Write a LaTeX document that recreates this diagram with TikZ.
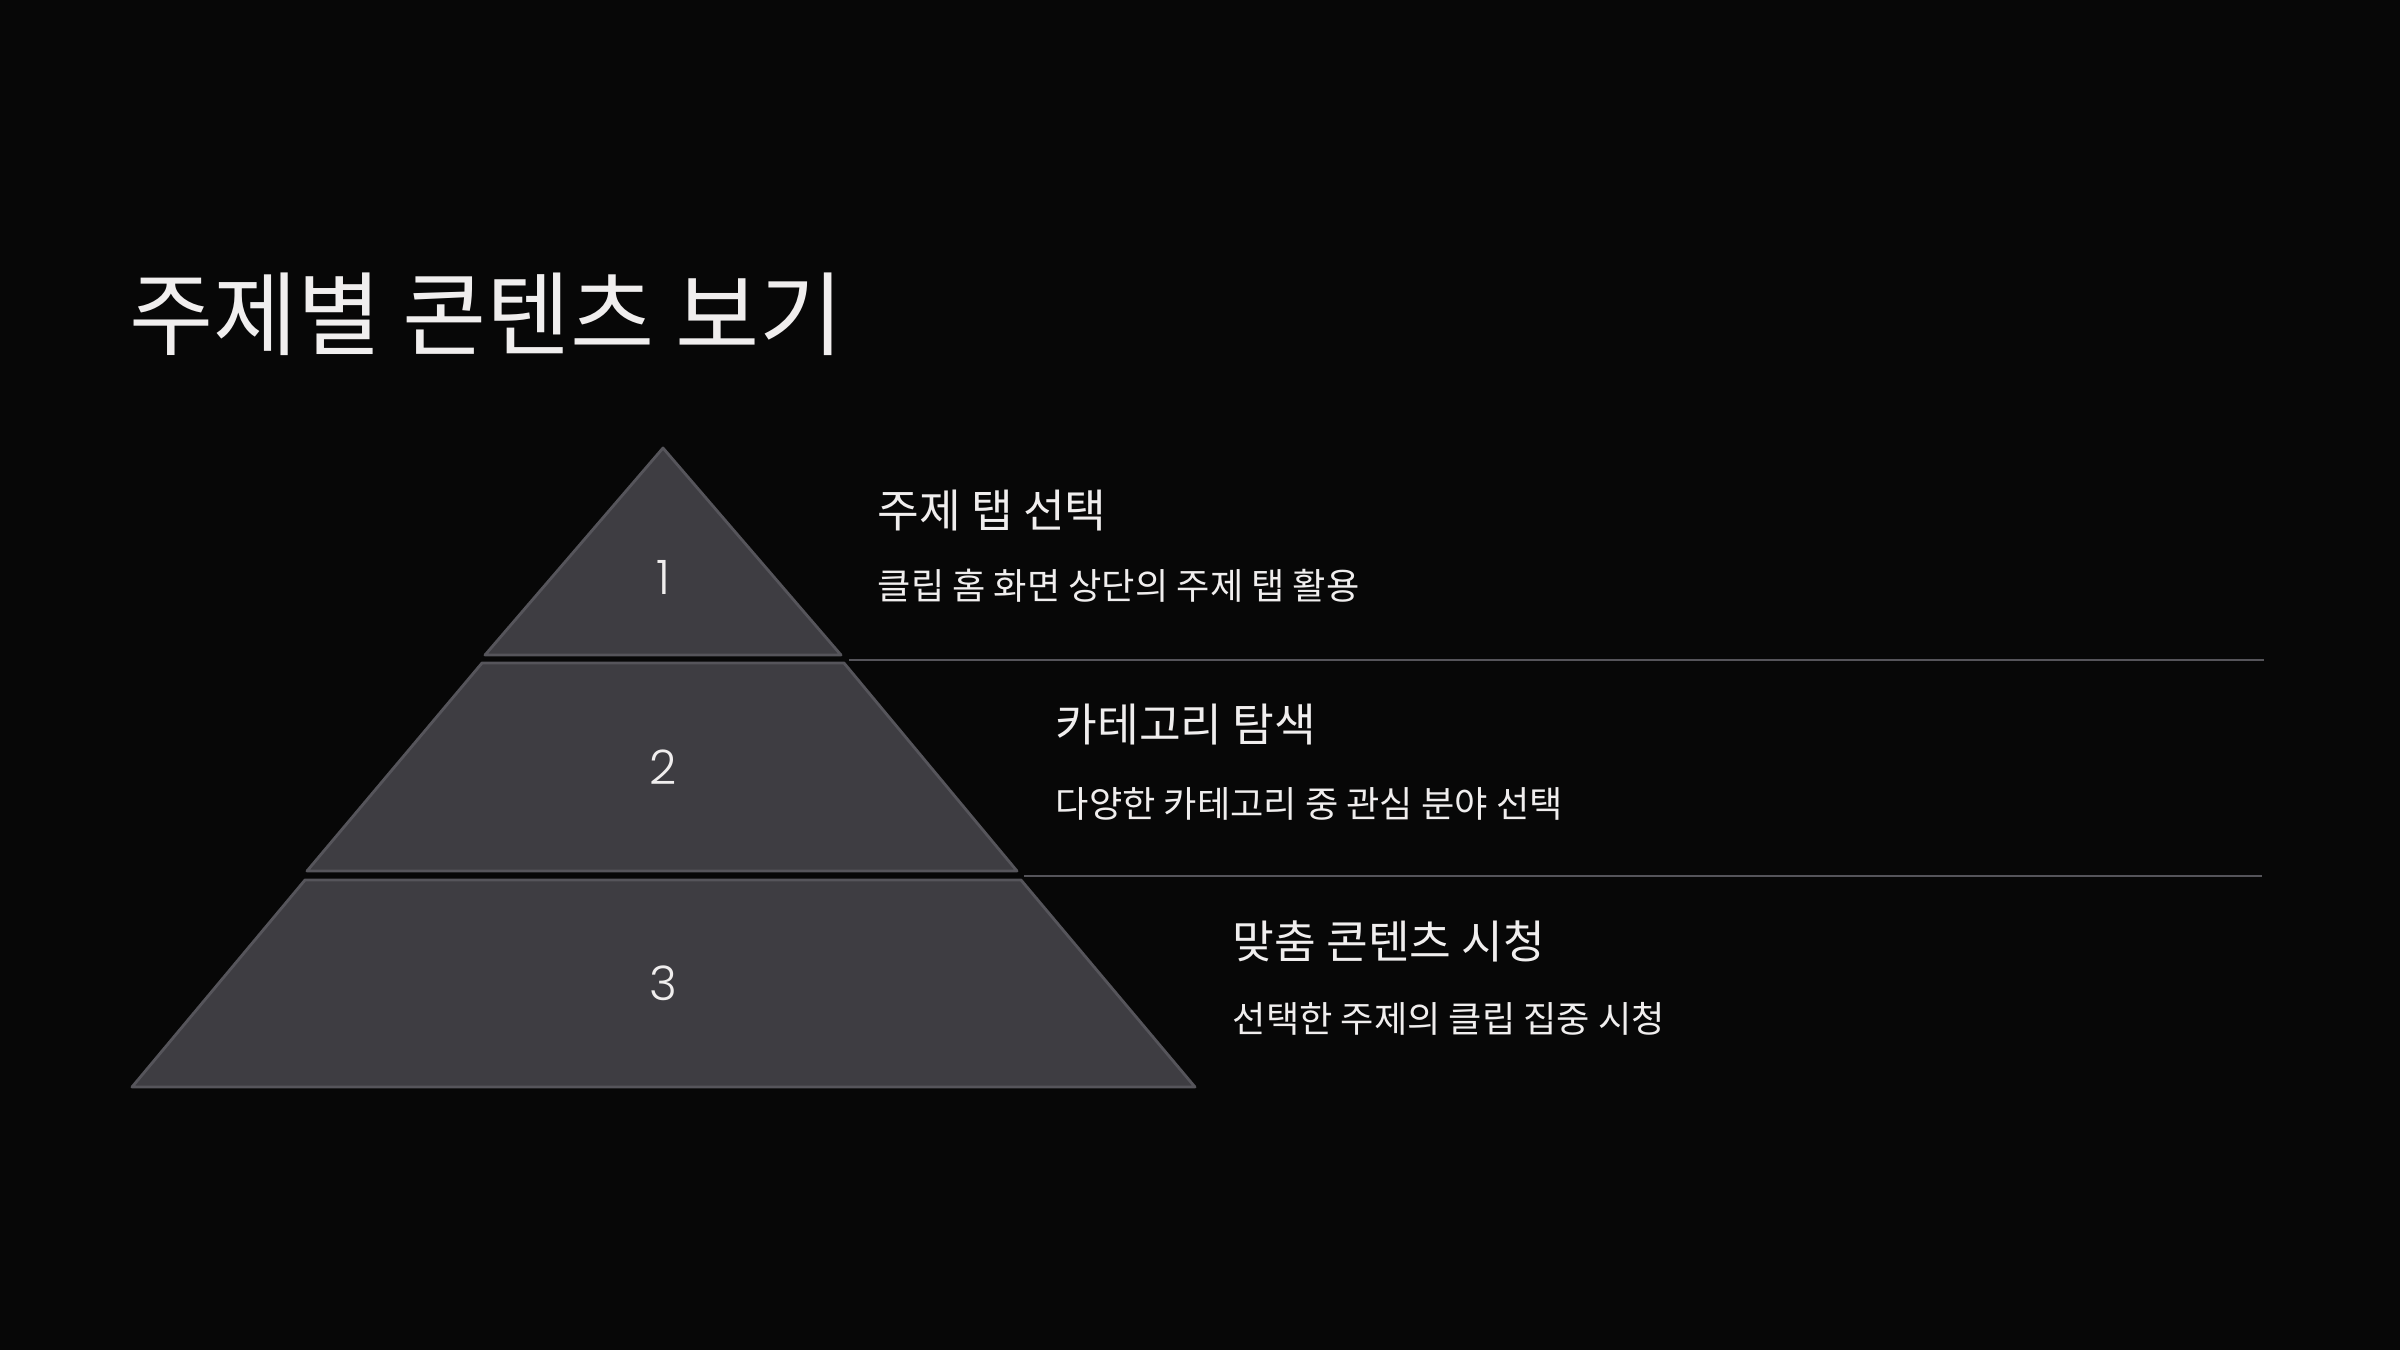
\documentclass[tikz,border=0pt]{standalone}
\usepackage{fontspec}
\setmainfont{Noto Sans CJK KR}
\newfontfamily\numfont{Poppins}[UprightFont=* Light]
\definecolor{bgcol}{HTML}{070707}
\definecolor{stepfill}{HTML}{3E3D42}
\definecolor{stepline}{HTML}{56555B}
\definecolor{txtcol}{HTML}{F0EEEE}
\definecolor{rulecol}{HTML}{55545A}
\tikzstyle{level} = [draw=stepline, fill=stepfill, line width=0.8pt, line join=round]
\tikzstyle{num} = [text=txtcol, font=\numfont\fontsize{13.5}{16}\selectfont, inner sep=0pt]
\tikzstyle{heading} = [anchor=west, text=txtcol, font=\fontsize{12.9}{15}\selectfont, inner sep=0pt]
\tikzstyle{desc} = [anchor=west, text=txtcol, font=\fontsize{10.3}{13}\selectfont, inner sep=0pt]
\tikzstyle{sep} = [draw=rulecol, line width=0.6pt]

\begin{document}
\begin{tikzpicture}[x=0.01cm, y=-0.01cm]
        % Background
        \fill [bgcol] (0,0) rectangle (2400,1350);
        \useasboundingbox (0,0) rectangle (2400,1350);
        % Title
        \node [anchor=west, text=txtcol, font=\fontsize{26}{31}\selectfont, inner sep=0pt] (title) at (129,314) {주제별 콘텐츠 보기};
        % Pyramid levels
        \draw [level] (663,448) -- (841,655) -- (485,655) -- cycle;
        \draw [level] (482,663) -- (844,663) -- (1017,871) -- (307,871) -- cycle;
        \draw [level] (305,880) -- (1021,880) -- (1195,1087) -- (132,1087) -- cycle;
        \node [num] (n1) at (663,577) {1};
        \node [num] (n2) at (663,767) {2};
        \node [num] (n3) at (663,983) {3};
        % Separators
        \coordinate (s1a) at (849,660);
        \coordinate (s1b) at (2264,660);
        \coordinate (s2a) at (1024,876);
        \coordinate (s2b) at (2262,876);
        \path [sep] (s1a) -- (s1b);
        \path [sep] (s2a) -- (s2b);
        % Labels
        \node [heading] (h1) at (877,510) {주제 탭 선택};
        \node [desc] (d1) at (877,586) {클립 홈 화면 상단의 주제 탭 활용};
        \node [heading] (h2) at (1055,725) {카테고리 탐색};
        \node [desc] (d2) at (1055,804) {다양한 카테고리 중 관심 분야 선택};
        \node [heading] (h3) at (1232,941) {맞춤 콘텐츠 시청};
        \node [desc] (d3) at (1232,1019) {선택한 주제의 클립 집중 시청};
\end{tikzpicture}
\end{document}
